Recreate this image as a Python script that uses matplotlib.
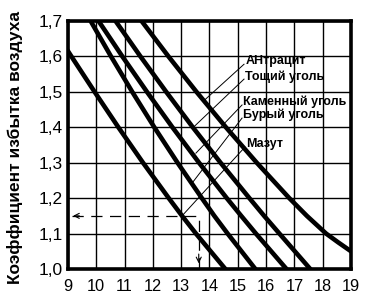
import matplotlib
matplotlib.use("Agg")
import matplotlib.pyplot as plt

# ---- data ----
x_ticks = list(range(9, 20))
y_ticks = [1.0, 1.1, 1.2, 1.3, 1.4, 1.5, 1.6, 1.7]
y_ticklabels = ["1,0", "1,1", "1,2", "1,3", "1,4", "1,5", "1,6", "1,7"]

# curves: (x values, y values)
c1_x = [9.0, 9.12, 9.94, 10.78, 11.65, 12.56, 13.03, 13.52, 14.56]
c1_y = [1.615, 1.6, 1.5, 1.4, 1.3, 1.2, 1.15, 1.1, 1.0]
c2_x = [9.8, 10.52, 11.27, 12.05, 12.87, 13.73, 14.17, 14.64, 15.62]
c2_y = [1.7, 1.6, 1.5, 1.4, 1.3, 1.2, 1.15, 1.1, 1.0]
c3_x = [10.08, 10.92, 11.79, 12.69, 13.63, 14.61, 15.12, 15.64, 16.72]
c3_y = [1.7, 1.6, 1.5, 1.4, 1.3, 1.2, 1.15, 1.1, 1.0]
c4_x = [10.68, 11.56, 12.47, 13.41, 14.39, 15.41, 15.93, 16.47, 17.56]
c4_y = [1.7, 1.6, 1.5, 1.4, 1.3, 1.2, 1.15, 1.1, 1.0]
c5_x = [11.6, 12.55, 13.54, 14.58, 15.67, 16.82, 17.44, 18.12, 18.55, 19.0]
c5_y = [1.7, 1.6, 1.5, 1.4, 1.3, 1.2, 1.15, 1.1, 1.075, 1.05]

labels = ["АНтрацит", "Тощий уголь", "Каменный уголь", "Бурый уголь", "Мазут"]
label_x = [15.27, 15.27, 15.2, 15.2, 15.3]
label_y = [1.586, 1.544, 1.471, 1.434, 1.352]
leader_start_x = [15.22, 15.22, 15.15, 15.15, 15.25]
leader_start_y = [1.578, 1.536, 1.463, 1.426, 1.344]
leader_end_x = [13.8, 13.43, 13.52, 13.38, 13.03]
leader_end_y = [1.475, 1.4, 1.327, 1.242, 1.15]

dash_x = [9.15, 13.62, 13.62]
dash_y = [1.15, 1.15, 1.0]

ylabel = "Коэффициент избытка воздуха"

# ---- figure ----
W, H = 370, 308
fig = plt.figure(figsize=(W / 100, H / 100), dpi=100)
ax = fig.add_axes([68 / W, 1 - 269 / H, (351 - 68) / W, (269 - 21) / H])

ax.set_xlim(9, 19)
ax.set_ylim(1.0, 1.7)
ax.set_xticks(x_ticks)
ax.set_yticks(y_ticks)
ax.set_yticklabels(y_ticklabels)
ax.grid(True, color="black", linewidth=1.0)
ax.set_axisbelow(True)
ax.tick_params(axis="y", length=0, labelsize=12.5, pad=4)
ax.tick_params(axis="x", length=0, labelsize=11.8, pad=7)
for lab in ax.get_xticklabels() + ax.get_yticklabels():
    lab.set_family("Liberation Sans")
for s in ax.spines.values():
    s.set_linewidth(2.6)
    s.set_color("black")

for cx, cy in [(c1_x, c1_y), (c2_x, c2_y), (c3_x, c3_y), (c4_x, c4_y), (c5_x, c5_y)]:
    ax.plot(cx, cy, color="black", linewidth=3.3, solid_joinstyle="round")

for i, t in enumerate(labels):
    ax.plot([leader_start_x[i], leader_end_x[i]], [leader_start_y[i], leader_end_y[i]],
            color="black", linewidth=0.7)
    ax.text(label_x[i], label_y[i], t, fontsize=9, fontweight="bold",
            family="Liberation Sans", va="center", ha="left")

ax.plot(dash_x, dash_y, color="black", linewidth=0.9, dashes=(9, 6))
ax.annotate("", xy=(9.08, 1.15), xytext=(9.5, 1.15),
            arrowprops=dict(arrowstyle="->", lw=0.8, mutation_scale=9, color="black"))
ax.annotate("", xy=(13.62, 1.008), xytext=(13.62, 1.05),
            arrowprops=dict(arrowstyle="->", lw=0.8, mutation_scale=9, color="black"))

ax.set_ylabel(ylabel, fontsize=12.5, fontweight="bold", family="Liberation Sans")
ax.yaxis.set_label_coords(-0.158, 0.49)

fig.savefig("out.png", dpi=100)
